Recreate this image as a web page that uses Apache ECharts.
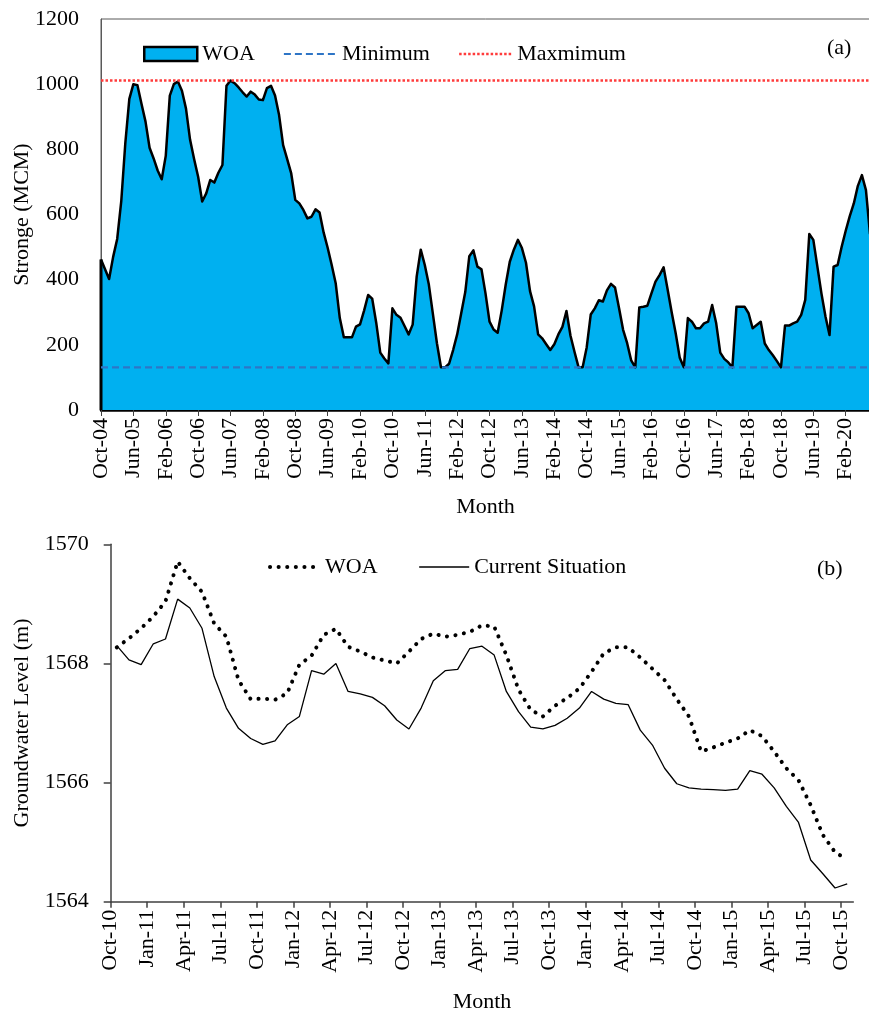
<!DOCTYPE html>
<html>
<head>
<meta charset="utf-8">
<script src="https://cdn.jsdelivr.net/npm/echarts@6/dist/echarts.min.js"></script>
<style>
  html, body { margin: 0; padding: 0; background: #fff; }
  #storage { width: 869px; height: 520px; }
  #groundwater { width: 869px; height: 500px; }
</style>
</head>
<body>
<div id="storage"></div>
<div id="groundwater"></div>
<script>
// ---- (a) Reservoir storage, monthly, Oct-04 onward (MCM) ----
const WOA_STORAGE = [
  462, 432, 402, 470, 525, 640, 818, 955, 1000, 997,
  940, 885, 805, 772, 735, 708, 780, 965, 1000, 1008,
  980, 925, 830, 770, 716, 640, 665, 706, 698, 728,
  752, 995, 1011, 1003, 990, 975, 962, 977, 968, 953,
  951, 988, 995, 965, 905, 813, 770, 726, 645, 634,
  614, 588, 593, 616, 606, 545, 498, 445, 388, 282,
  223, 223, 223, 256, 263, 305, 353, 342, 268, 176,
  158, 143, 312, 292, 283, 258, 232, 262, 410, 492,
  445, 385, 295, 205, 131, 131, 142, 184, 232, 297,
  362, 472, 490, 440, 432, 358, 271, 247, 237, 305,
  385, 455, 492, 522, 497, 452, 365, 318, 232, 220,
  202, 184, 202, 232, 255, 304, 228, 178, 131, 131,
  192, 293, 312, 337, 333, 367, 387, 376, 312, 246,
  205, 152, 131, 315, 317, 320, 358, 394, 414, 438,
  370, 300, 235, 160, 131, 282, 271, 251, 251, 266,
  271, 322, 266, 176, 157, 146, 131, 317, 317, 317,
  297, 251, 261, 271, 204, 184, 168, 150, 131, 259,
  259, 266, 271, 292, 338, 540, 522, 440, 358, 287,
  230, 440, 445, 501, 550, 595, 634, 688, 721, 675,
  540
];
const STORAGE_MIN = 131;
const STORAGE_MAX = 1011;
const STORAGE_TICK_STEP = 8;
const STORAGE_TICK_LABELS = [
  'Oct-04', 'Jun-05', 'Feb-06', 'Oct-06', 'Jun-07', 'Feb-08', 'Oct-08', 'Jun-09',
  'Feb-10', 'Oct-10', 'Jun-11', 'Feb-12', 'Oct-12', 'Jun-13', 'Feb-14', 'Oct-14',
  'Jun-15', 'Feb-16', 'Oct-16', 'Jun-17', 'Feb-18', 'Oct-18', 'Jun-19', 'Feb-20'
];

// ---- (b) Groundwater level, monthly Oct-10 .. Oct-15 (m) ----
const WOA_LEVEL = [
  1568.27, 1568.42, 1568.59, 1568.79, 1569.04, 1569.71, 1569.43, 1569.20, 1568.67, 1568.45,
  1567.72, 1567.40, 1567.41, 1567.39, 1567.50, 1567.98, 1568.13, 1568.48, 1568.58, 1568.28,
  1568.20, 1568.10, 1568.05, 1568.00, 1568.20, 1568.41, 1568.50, 1568.45, 1568.48, 1568.53,
  1568.64, 1568.62, 1568.14, 1567.56, 1567.22, 1567.11, 1567.29, 1567.42, 1567.58, 1567.86,
  1568.17, 1568.27, 1568.27, 1568.10, 1567.91, 1567.72, 1567.40, 1567.11, 1566.52, 1566.59,
  1566.67, 1566.74, 1566.88, 1566.78, 1566.52, 1566.24, 1566.04, 1565.62, 1565.12, 1564.83,
  1564.71
];
const CURRENT_LEVEL = [
  1568.30, 1568.06, 1567.98, 1568.33, 1568.41, 1569.08, 1568.93, 1568.59, 1567.78, 1567.25,
  1566.91, 1566.74, 1566.64, 1566.70, 1566.97, 1567.11, 1567.88, 1567.82, 1568.00, 1567.53,
  1567.49, 1567.43, 1567.29, 1567.05, 1566.90, 1567.25, 1567.71, 1567.88, 1567.90, 1568.25,
  1568.29, 1568.14, 1567.53, 1567.19, 1566.93, 1566.90, 1566.96, 1567.08, 1567.25, 1567.53,
  1567.40, 1567.33, 1567.31, 1566.88, 1566.63, 1566.24, 1565.98, 1565.91, 1565.89, 1565.88,
  1565.87, 1565.89, 1566.20, 1566.14, 1565.91, 1565.60, 1565.33, 1564.70, 1564.47, 1564.23,
  1564.30
];
const LEVEL_TICK_STEP = 3;
const LEVEL_TICK_LABELS = [
  'Oct-10', 'Jan-11', 'Apr-11', 'Jul-11', 'Oct-11', 'Jan-12', 'Apr-12', 'Jul-12',
  'Oct-12', 'Jan-13', 'Apr-13', 'Jul-13', 'Oct-13', 'Jan-14', 'Apr-14', 'Jul-14',
  'Oct-14', 'Jan-15', 'Apr-15', 'Jul-15', 'Oct-15'
];

const FONT = 'Liberation Serif';
const FS = 22;
const txt = { fontFamily: FONT, fontSize: FS, color: '#000' };
const plain = v => String(v);

function tickPositions(step, count) {
  const out = [];
  for (let k = 0; k < count; k++) out.push(k * step);
  return out;
}

// line styles shared by series and their legend icons
const minStyle = { color: '#2E75C6', width: 2.2, type: [7, 4] };
const maxStyle = { color: '#FF3B3B', width: 2.5, type: [2.5, 2] };
const dotStyle = { color: '#000', width: 4, type: [0.1, 8.5], cap: 'round' };
const solidStyle = { color: '#000', width: 1.3 };

// ---------- chart (a) ----------
const lastIdx = WOA_STORAGE.length - 1;
const storageTicks = tickPositions(STORAGE_TICK_STEP, STORAGE_TICK_LABELS.length);
const chartA = echarts.init(document.getElementById('storage'), null, { renderer: 'canvas' });
chartA.setOption({
  animation: false,
  grid: {
    left: 101, top: 19, right: -1, bottom: 110, outerBoundsMode: 'none',
    show: true, borderColor: '#595959', borderWidth: 1
  },
  legend: {
    left: 138, top: 38, itemWidth: 53, itemHeight: 14, itemGap: 28,
    textStyle: txt,
    data: [
      { name: 'WOA', icon: 'rect', itemStyle: { color: '#00B0F0', borderColor: '#000', borderWidth: 2.5 } },
      { name: 'Minimum', itemStyle: { opacity: 0, borderWidth: 0 }, lineStyle: minStyle },
      { name: 'Maxmimum', itemStyle: { opacity: 0, borderWidth: 0 }, lineStyle: maxStyle }
    ]
  },
  graphic: [{ type: 'text', left: 827, top: 37, style: { text: '(a)', font: FS + 'px "' + FONT + '"', fill: '#000' } }],
  xAxis: {
    type: 'value', min: 0, max: lastIdx, interval: STORAGE_TICK_STEP,
    axisLine: { lineStyle: { color: '#000', width: 2.5 } },
    axisTick: { show: true, length: 6, lineStyle: { color: '#404040', width: 1 }, customValues: storageTicks },
    axisLabel: {
      rotate: 90, margin: 8, ...txt, customValues: storageTicks,
      formatter: v => (v % STORAGE_TICK_STEP === 0 && STORAGE_TICK_LABELS[v / STORAGE_TICK_STEP]) || ''
    },
    splitLine: { show: false },
    name: 'Month', nameLocation: 'middle', nameGap: 86, nameMoveOverlap: false, nameTextStyle: txt
  },
  yAxis: {
    type: 'value', min: 0, max: 1200, interval: 200,
    axisLine: { show: true, lineStyle: { color: '#595959', width: 1 } },
    axisTick: { show: false },
    splitLine: { show: false },
    axisLabel: { margin: 22, ...txt, formatter: plain },
    name: 'Stronge (MCM)', nameLocation: 'middle', nameGap: 68, nameMoveOverlap: false, nameTextStyle: txt
  },
  series: [
    {
      name: 'WOA', type: 'line', symbol: 'none', z: 2,
      data: WOA_STORAGE.map((v, i) => [i, v]),
      lineStyle: { color: '#000', width: 2.5, join: 'round' },
      areaStyle: { color: '#00B0F0', opacity: 1 }
    },
    {
      name: 'edge', type: 'line', symbol: 'none', z: 3, clip: false, silent: true,
      data: [[0, 0], [0, WOA_STORAGE[0]]],
      lineStyle: { color: '#000', width: 3 }
    },
    {
      name: 'Minimum', type: 'line', symbol: 'none', z: 4,
      data: [[0, STORAGE_MIN], [lastIdx, STORAGE_MIN]],
      lineStyle: minStyle
    },
    {
      name: 'Maxmimum', type: 'line', symbol: 'none', z: 4,
      data: [[0, STORAGE_MAX], [lastIdx, STORAGE_MAX]],
      lineStyle: maxStyle
    }
  ]
});

// ---------- chart (b) ----------
const levelTicks = tickPositions(LEVEL_TICK_STEP, LEVEL_TICK_LABELS.length);
const chartB = echarts.init(document.getElementById('groundwater'), null, { renderer: 'canvas' });
chartB.setOption({
  animation: false,
  grid: { left: 110.7, top: 24.3, right: 15.7, bottom: 118.3, outerBoundsMode: 'none' },
  legend: {
    left: 263, top: 31, itemWidth: 50, itemHeight: 14, itemGap: 41,
    textStyle: txt,
    data: [
      { name: 'WOA', itemStyle: { opacity: 0, borderWidth: 0 }, lineStyle: dotStyle },
      { name: 'Current Situation', itemStyle: { opacity: 0, borderWidth: 0 }, lineStyle: solidStyle }
    ]
  },
  graphic: [{ type: 'text', left: 817, top: 38, style: { text: '(b)', font: FS + 'px "' + FONT + '"', fill: '#000' } }],
  xAxis: {
    type: 'value', min: 0, max: WOA_LEVEL.length, interval: LEVEL_TICK_STEP,
    axisLine: { lineStyle: { color: '#404040', width: 1.5 } },
    axisTick: { show: true, length: 6, lineStyle: { color: '#404040', width: 1.5 }, customValues: levelTicks },
    axisLabel: {
      rotate: 90, margin: 8, ...txt, customValues: levelTicks,
      formatter: v => (v % LEVEL_TICK_STEP === 0 && LEVEL_TICK_LABELS[v / LEVEL_TICK_STEP]) || ''
    },
    splitLine: { show: false },
    name: 'Month', nameLocation: 'middle', nameGap: 90, nameMoveOverlap: false, nameTextStyle: txt
  },
  yAxis: {
    type: 'value', min: 1564, max: 1570, interval: 2,
    axisLine: { show: true, lineStyle: { color: '#404040', width: 1.5 } },
    axisTick: { show: true, length: 7, lineStyle: { color: '#404040', width: 1.5 } },
    splitLine: { show: false },
    axisLabel: { margin: 22, ...txt, formatter: plain },
    name: 'Groundwater Level (m)', nameLocation: 'middle', nameGap: 77, nameMoveOverlap: false, nameTextStyle: txt
  },
  series: [
    {
      name: 'WOA', type: 'line', symbol: 'none',
      data: WOA_LEVEL.map((v, i) => [i + 0.5, v]),
      lineStyle: dotStyle
    },
    {
      name: 'Current Situation', type: 'line', symbol: 'none',
      data: CURRENT_LEVEL.map((v, i) => [i + 0.5, v]),
      lineStyle: solidStyle
    }
  ]
});
</script>
</body>
</html>
